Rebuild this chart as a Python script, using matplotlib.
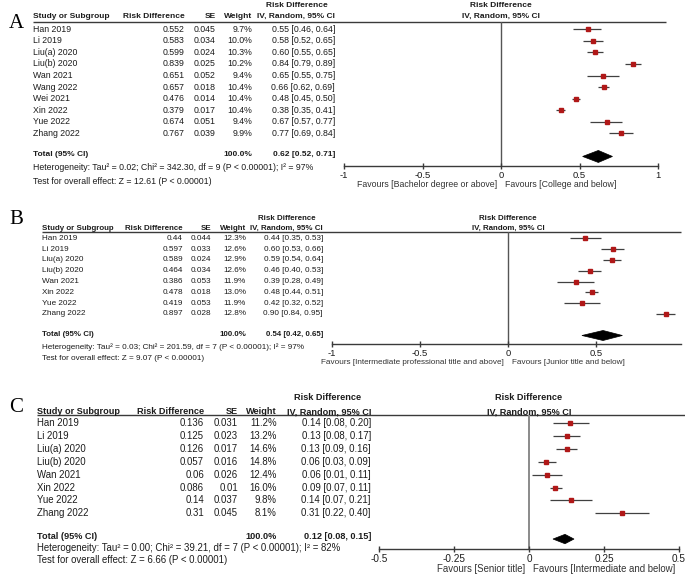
import matplotlib
matplotlib.use("Agg")
import matplotlib.pyplot as plt
from matplotlib.patches import Polygon

# ---------------- data ----------------
studies_A = ["Han 2019", "Li 2019", "Liu(a) 2020", "Liu(b) 2020", "Wan 2021",
             "Wang 2022", "Wei 2021", "Xin 2022", "Yue 2022", "Zhang 2022"]
rd_A = [0.552, 0.583, 0.599, 0.839, 0.651, 0.657, 0.476, 0.379, 0.674, 0.767]
se_A = [0.045, 0.034, 0.024, 0.025, 0.052, 0.018, 0.014, 0.017, 0.051, 0.039]
w_A = [9.7, 10.0, 10.3, 10.2, 9.4, 10.4, 10.4, 10.4, 9.4, 9.9]
est_A = [0.55, 0.58, 0.60, 0.84, 0.65, 0.66, 0.48, 0.38, 0.67, 0.77]
lo_A = [0.46, 0.52, 0.55, 0.79, 0.55, 0.62, 0.45, 0.35, 0.57, 0.69]
hi_A = [0.64, 0.65, 0.65, 0.89, 0.75, 0.69, 0.50, 0.41, 0.77, 0.84]
total_A = [0.62, 0.52, 0.71]
totw_A = 100.0
het_A = "Heterogeneity: Tau\u00b2 = 0.02; Chi\u00b2 = 342.30, df = 9 (P < 0.00001); I\u00b2 = 97%"
test_A = "Test for overall effect: Z = 12.61 (P < 0.00001)"
fav_A = ["Favours [Bachelor degree or above]", "Favours [College and below]"]
ticks_A = [-1, -0.5, 0, 0.5, 1]

studies_B = ["Han 2019", "Li 2019", "Liu(a) 2020", "Liu(b) 2020", "Wan 2021",
             "Xin 2022", "Yue 2022", "Zhang 2022"]
rd_B = [0.44, 0.597, 0.589, 0.464, 0.386, 0.478, 0.419, 0.897]
se_B = [0.044, 0.033, 0.024, 0.034, 0.053, 0.018, 0.053, 0.028]
w_B = [12.3, 12.6, 12.9, 12.6, 11.9, 13.0, 11.9, 12.8]
est_B = [0.44, 0.60, 0.59, 0.46, 0.39, 0.48, 0.42, 0.90]
lo_B = [0.35, 0.53, 0.54, 0.40, 0.28, 0.44, 0.32, 0.84]
hi_B = [0.53, 0.66, 0.64, 0.53, 0.49, 0.51, 0.52, 0.95]
total_B = [0.54, 0.42, 0.65]
totw_B = 100.0
het_B = "Heterogeneity: Tau\u00b2 = 0.03; Chi\u00b2 = 201.59, df = 7 (P < 0.00001); I\u00b2 = 97%"
test_B = "Test for overall effect: Z = 9.07 (P < 0.00001)"
fav_B = ["Favours [Intermediate professional title and above]", "Favours [Junior title and below]"]
ticks_B = [-1, -0.5, 0, 0.5]

studies_C = ["Han 2019", "Li 2019", "Liu(a) 2020", "Liu(b) 2020", "Wan 2021",
             "Xin 2022", "Yue 2022", "Zhang 2022"]
rd_C = [0.136, 0.125, 0.126, 0.057, 0.06, 0.086, 0.14, 0.31]
se_C = [0.031, 0.023, 0.017, 0.016, 0.026, 0.01, 0.037, 0.045]
w_C = [11.2, 13.2, 14.6, 14.8, 12.4, 16.0, 9.8, 8.1]
est_C = [0.14, 0.13, 0.13, 0.06, 0.06, 0.09, 0.14, 0.31]
lo_C = [0.08, 0.08, 0.09, 0.03, 0.01, 0.07, 0.07, 0.22]
hi_C = [0.20, 0.17, 0.16, 0.09, 0.11, 0.11, 0.21, 0.40]
total_C = [0.12, 0.08, 0.15]
totw_C = 100.0
het_C = "Heterogeneity: Tau\u00b2 = 0.00; Chi\u00b2 = 39.21, df = 7 (P < 0.00001); I\u00b2 = 82%"
test_C = "Test for overall effect: Z = 6.66 (P < 0.00001)"
fav_C = ["Favours [Senior title]", "Favours [Intermediate and below]"]
ticks_C = [-0.5, -0.25, 0, 0.25, 0.5]

# ---------------- figure ----------------
W, H = 685, 578
fig = plt.figure(figsize=(W / 100, H / 100), dpi=100)
fig.patch.set_facecolor("white")
ov = fig.add_axes([0, 0, 1, 1])
ov.set_xlim(0, W)
ov.set_ylim(H, 0)
ov.axis("off")

FONT = "Liberation Sans"
TXT = "#1c1c1c"
SQ = "#b01818"


def panel(letter, letter_y, studies, rd, se, w, est, lo, hi, total, totw, het,
          test, fav, ticks,
          fs, y0, dy, y_h1, y_h2, y_line, line_x0, line_x1,
          x_study, x_rd, x_se, x_w, x_ci, x_h1,
          plot_x0, plot_x1, xlim, top_px, axis_px, y_tot, y_het, y_test,
          y_fav, zero_col, zero_lw, dia_half_px, sq_ms, tick_fs):
    n = len(studies)
    bfs = fs * 0.96
    ov.text(16, letter_y, letter, family="Liberation Serif", fontsize=15,
            ha="center", va="center", color="black")
    # headers
    ov.text(x_h1, y_h1, "Risk Difference", fontsize=bfs, fontweight="bold",
            family=FONT, ha="center", va="center", color=TXT)
    for txt, x, ha in [("Study or Subgroup", x_study, "left"),
                       ("Risk Difference", x_rd, "right"),
                       ("SE", x_se, "right"), ("Weight", x_w, "right"),
                       ("IV, Random, 95% CI", x_ci, "right")]:
        ov.text(x, y_h2, txt, fontsize=bfs, fontweight="bold", family=FONT,
                ha=ha, va="center", color=TXT)
    ov.plot([line_x0, line_x1], [y_line, y_line], color="#3a3a3a", lw=1.0,
            solid_capstyle="butt")
    # rows
    for i in range(n):
        y = y0 + i * dy
        ov.text(x_study, y, studies[i], fontsize=fs, family=FONT, ha="left",
                va="center", color=TXT)
        ov.text(x_rd, y, str(rd[i]), fontsize=fs, family=FONT, ha="right",
                va="center", color=TXT)
        ov.text(x_se, y, str(se[i]), fontsize=fs, family=FONT, ha="right",
                va="center", color=TXT)
        ov.text(x_w, y, f"{w[i]:.1f}%", fontsize=fs, family=FONT, ha="right",
                va="center", color=TXT)
        ov.text(x_ci, y, f"{est[i]:.2f} [{lo[i]:.2f}, {hi[i]:.2f}]", fontsize=fs,
                family=FONT, ha="right", va="center", color=TXT)
    ov.text(x_study, y_tot, "Total (95% CI)", fontsize=bfs, fontweight="bold",
            family=FONT, ha="left", va="center", color=TXT)
    ov.text(x_w, y_tot, f"{totw:.1f}%", fontsize=bfs, fontweight="bold",
            family=FONT, ha="right", va="center", color=TXT)
    ov.text(x_ci, y_tot, f"{total[0]:.2f} [{total[1]:.2f}, {total[2]:.2f}]",
            fontsize=bfs, fontweight="bold", family=FONT, ha="right", va="center",
            color=TXT)
    ov.text(x_study, y_het, het, fontsize=fs, family=FONT, ha="left",
            va="center", color=TXT)
    ov.text(x_study, y_test, test, fontsize=fs, family=FONT, ha="left",
            va="center", color=TXT)

    # forest axes
    ax = fig.add_axes([plot_x0 / W, 1 - axis_px / H, (plot_x1 - plot_x0) / W,
                       (axis_px - top_px) / H])
    ax.patch.set_alpha(0)
    ax.set_xlim(*xlim)
    ax.set_ylim((axis_px - y0) / dy, (top_px - y0) / dy)
    for s in ["top", "left", "right"]:
        ax.spines[s].set_visible(False)
    ax.spines["bottom"].set_color("#3a3a3a")
    ax.spines["bottom"].set_linewidth(1.0)
    ax.set_yticks([])
    ax.set_xticks(ticks)
    ax.set_xticklabels([f"{t:g}" for t in ticks], family=FONT, fontsize=tick_fs,
                       color=TXT)
    ax.tick_params(axis="x", direction="inout", length=5, width=1.0,
                   color="#3a3a3a", pad=1)
    ax.axvline(0, color=zero_col, lw=zero_lw, zorder=1)
    # plot header
    zx = plot_x0 + (0 - xlim[0]) / (xlim[1] - xlim[0]) * (plot_x1 - plot_x0)
    ov.text(zx, y_h1, "Risk Difference", fontsize=bfs, fontweight="bold",
            family=FONT, ha="center", va="center", color=TXT)
    ov.text(zx, y_h2, "IV, Random, 95% CI", fontsize=bfs, fontweight="bold",
            family=FONT, ha="center", va="center", color=TXT)
    for i in range(n):
        ax.plot([lo[i], hi[i]], [i, i], color="#404040", lw=0.9, zorder=2,
                solid_capstyle="butt")
        ax.plot(rd[i], i, marker="s", ms=sq_ms, color=SQ, mec=SQ, zorder=3)
    yt = n + 1
    hh = dia_half_px / dy
    ax.add_patch(Polygon([[total[1], yt], [total[0], yt - hh], [total[2], yt],
                          [total[0], yt + hh]], closed=True, fc="black",
                         ec="black", lw=0.5, zorder=3))
    ov.text(zx - 4, y_fav, fav[0], fontsize=fs, family=FONT, ha="right",
            va="center", color="#333333")
    ov.text(zx + 4, y_fav, fav[1], fontsize=fs, family=FONT, ha="left",
            va="center", color="#333333")


panel("A", 24, studies_A, rd_A, se_A, w_A, est_A, lo_A, hi_A, total_A, totw_A,
      het_A, test_A, fav_A, ticks_A, fs=6.3, y0=29.3, dy=11.56, y_h1=5.5,
      y_h2=16.5, y_line=21.5, line_x0=33, line_x1=666,
      x_study=33, x_rd=185, x_se=216, x_w=252, x_ci=335, x_h1=297,
      plot_x0=344, plot_x1=658, xlim=(-1, 1), top_px=21.5, axis_px=165.7,
      y_tot=154.3, y_het=167.7, y_test=181, y_fav=184.5,
      zero_col="#555555", zero_lw=1.0, dia_half_px=6, sq_ms=3.0, tick_fs=6.8)

panel("B", 220, studies_B, rd_B, se_B, w_B, est_B, lo_B, hi_B, total_B, totw_B,
      het_B, test_B, fav_B, ticks_B, fs=5.9, y0=238.3, dy=10.8, y_h1=218,
      y_h2=228.5, y_line=232, line_x0=42, line_x1=681,
      x_study=42, x_rd=183, x_se=211, x_w=246, x_ci=323, x_h1=287,
      plot_x0=332, plot_x1=681, xlim=(-1, 0.983), top_px=232, axis_px=344,
      y_tot=335, y_het=346.7, y_test=358, y_fav=362,
      zero_col="#555555", zero_lw=1.0, dia_half_px=5, sq_ms=3.0, tick_fs=6.8)

panel("C", 408, studies_C, rd_C, se_C, w_C, est_C, lo_C, hi_C, total_C, totw_C,
      het_C, test_C, fav_C, ticks_C, fs=6.9, y0=423.3, dy=12.86, y_h1=397.5,
      y_h2=411.5, y_line=415, line_x0=37, line_x1=685,
      x_study=37, x_rd=204, x_se=238, x_w=277, x_ci=371, x_h1=328,
      plot_x0=379, plot_x1=679, xlim=(-0.5, 0.5), top_px=415, axis_px=549,
      y_tot=536.7, y_het=548, y_test=560, y_fav=569,
      zero_col="#8a8a8a", zero_lw=1.4, dia_half_px=4.7, sq_ms=3.2, tick_fs=7.2)

fig.savefig("out.png", dpi=100, facecolor="white")
